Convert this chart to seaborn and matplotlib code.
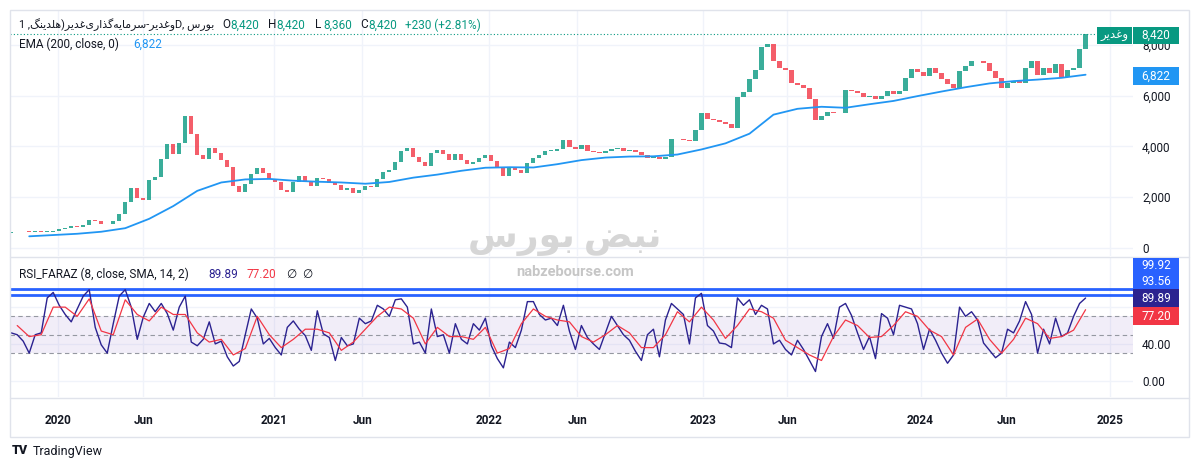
import numpy as np
import matplotlib
matplotlib.use("Agg")
import matplotlib.pyplot as plt
import seaborn as sns
from matplotlib.patches import Rectangle
from matplotlib.lines import Line2D

# --- data (roughly one value per week of trading) ---
close = [620, 615, 625, 620, 630, 625, 640, 680, 760, 800,
         860, 840, 900, 1100, 1080, 960, 930, 1050, 1350, 1800,
         2380, 1980, 1880, 2690, 2800, 3500, 4100, 3700, 4150, 5200,
         4500, 3650, 3500, 3940, 3750, 3480, 3200, 2450, 2200, 2500,
         2900, 3150, 2950, 2720, 2600, 2300, 2200, 2600, 2820, 2650,
         2450, 2750, 2700, 2550, 2480, 2290, 2380, 2150, 2300, 2450,
         2420, 2700, 2980, 3080, 3400, 3800, 3950, 3600, 3400, 3230,
         3750, 3850, 3700, 3450, 3720, 3480, 3300, 3400, 3560, 3650,
         3410, 3180, 2820, 3130, 3070, 2950, 3350, 3550, 3680, 3820,
         3830, 3900, 4250, 3980, 3880, 4070, 3830, 3770, 3750, 3830,
         3900, 3930, 3820, 3860, 3790, 3670, 3560, 3600, 3500, 3600,
         4300, 4280, 4250, 4220, 4650, 5300, 5080, 5050, 4980, 4900,
         4730, 5950, 6150, 6640, 7000, 7900, 8050, 7350, 7100, 7000,
         6500, 6400, 6300, 5850, 5050, 5200, 5350, 5300, 5320, 6240,
         6170, 6120, 5950, 5990, 5850, 6000, 6200, 6080, 6200, 6700,
         7030, 6920, 6780, 7100, 6880, 6640, 6470, 6310, 6950, 7150,
         7360, 7350, 7300, 6950, 6700, 6300, 6480, 6570, 6510, 7100,
         7360, 6800, 7100, 6900, 7250, 6750, 7000, 7100, 7820, 8420]
first_open = 600

# EMA(200) sampled every 4th bar, starting at bar 3
ema = [460, 510, 560, 640, 780, 1150, 1650, 2250, 2580, 2700,
       2720, 2650, 2610, 2580, 2530, 2600, 2770, 2890, 3040, 3160,
       3180, 3170, 3300, 3460, 3560, 3600, 3610, 3680, 3880, 4120,
       4500, 5250, 5480, 5560, 5520, 5660, 5790, 5980, 6160, 6330,
       6480, 6570, 6630, 6700, 6822]

rsi = [52, 50, 43, 30, 50, 52, 90, 96, 82, 72,
       64, 78, 92, 99, 58, 39, 30, 62, 92, 99,
       80, 45, 69, 84, 75, 84, 73, 55, 80, 92,
       42, 38, 45, 64, 40, 43, 26, 16, 21, 50,
       78, 68, 40, 46, 36, 28, 58, 65, 56, 49,
       33, 76, 51, 47, 22, 47, 38, 40, 68, 62,
       65, 82, 78, 70, 88, 89, 80, 40, 42, 30,
       78, 48, 50, 30, 62, 45, 40, 62, 55, 68,
       38, 24, 14, 42, 36, 55, 86, 86, 72, 66,
       68, 60, 82, 54, 34, 60, 47, 40, 34, 52,
       70, 60, 50, 44, 32, 22, 50, 56, 26, 66,
       84, 78, 72, 40, 90, 95, 60, 54, 41, 40,
       36, 90, 82, 88, 72, 82, 78, 40, 44, 34,
       28, 44, 34, 22, 10, 48, 62, 46, 80, 84,
       71, 52, 34, 48, 24, 73, 68, 50, 82, 80,
       78, 62, 34, 56, 44, 30, 19, 28, 80, 70,
       75, 66, 41, 33, 25, 30, 56, 52, 65, 86,
       72, 30, 56, 40, 68, 48, 52, 70, 84, 89.89]

# SMA(14) of the RSI, sampled every 2nd bar, starting at bar 1
rsi_sma = [60, 48, 50, 80, 80, 70, 89, 54, 50, 88,
           72, 65, 80, 72, 72, 52, 42, 45, 28, 35,
           70, 50, 36, 45, 56, 56, 52, 33, 42, 56,
           70, 80, 78, 68, 40, 58, 48, 48, 45, 58,
           30, 35, 62, 78, 70, 66, 64, 48, 42, 50,
           60, 52, 36, 36, 50, 75, 64, 80, 66, 46,
           60, 78, 75, 68, 44, 36, 28, 22, 48, 66,
           60, 47, 48, 60, 75, 70, 55, 48, 28, 58,
           67, 45, 30, 45, 68, 62, 46, 48, 55, 77.2]

tick_pos = [7.8, 22.0, 43.8, 58.5, 79.6, 94.3, 115.3, 129.3, 151.5, 165.8, 183.1]
tick_labels = ["2020", "Jun", "2021", "Jun", "2022", "Jun", "2023", "Jun", "2024", "Jun", "2025"]
price_ticks = [0, 2000, 4000, 6000, 8000]
rsi_ticks = [0, 40, 80]
rsi_tick_labels = ["0.00", "40.00", ""]
rsi_band = [30, 50, 70]
rsi_limits = [99.92, 93.56]

ticker = "وغدیر"
title = "وغدیر-سرمایه\u200cگذاری\u200cغدیر(هلدینگ, 1"
exchange = "بورس"
ohlc = [("O", "8,420"), ("H", "8,420"), ("L", "8,360"), ("C", "8,420")]
change = "+230 (+2.81%)"

GREEN = "#089981"
RED = "#F23645"
DARK = "#131722"
EMA_BLUE = "#2196F3"
RSI_COL = "#2B2290"
GRID = "#f0f3fa"
BORDER = "#e0e3eb"

# --- tiny arabic shaper: matplotlib has no bidi / joining support ---
FORMS = {
    "ا": ("\uFE8D", "\uFE8E", None, None),
    "ب": ("\uFE8F", "\uFE90", "\uFE91", "\uFE92"),
    "د": ("\uFEA9", "\uFEAA", None, None),
    "ذ": ("\uFEAB", "\uFEAC", None, None),
    "ر": ("\uFEAD", "\uFEAE", None, None),
    "س": ("\uFEB1", "\uFEB2", "\uFEB3", "\uFEB4"),
    "ض": ("\uFEBD", "\uFEBE", "\uFEBF", "\uFEC0"),
    "غ": ("\uFECD", "\uFECE", "\uFECF", "\uFED0"),
    "ل": ("\uFEDD", "\uFEDE", "\uFEDF", "\uFEE0"),
    "م": ("\uFEE1", "\uFEE2", "\uFEE3", "\uFEE4"),
    "ن": ("\uFEE5", "\uFEE6", "\uFEE7", "\uFEE8"),
    "ه": ("\uFEE9", "\uFEEA", "\uFEEB", "\uFEEC"),
    "و": ("\uFEED", "\uFEEE", None, None),
    "ی": ("\uFBFC", "\uFBFD", "\uFBFE", "\uFBFF"),
    "گ": ("\uFB92", "\uFB93", "\uFB94", "\uFB95"),
}
MIRROR = {"(": ")", ")": "("}


def rtl(s):
    out = []
    for k, ch in enumerate(s):
        if ch == "\u200c":
            continue
        if ch not in FORMS:
            out.append(MIRROR.get(ch, ch))
            continue
        iso, fin, ini, med = FORMS[ch]
        prev = s[k - 1] if k > 0 else ""
        nxt = s[k + 1] if k + 1 < len(s) else ""
        jp = prev in FORMS and FORMS[prev][2] is not None
        jn = nxt in FORMS and ini is not None
        if jp and jn:
            out.append(med)
        elif jp:
            out.append(fin)
        elif jn:
            out.append(ini)
        else:
            out.append(iso)
    return "".join(out[::-1])


sns.set_style("white")
plt.rcParams["font.family"] = ["Roboto", "DejaVu Sans"]

W, H = 1200, 470
fig = plt.figure(figsize=(W / 100, H / 100), dpi=100)
renderer = fig.canvas.get_renderer()


def fx(x):
    return x / W


def fy(y):
    return 1 - y / H


ax = fig.add_axes([fx(10), fy(256), 1123 / W, 246 / H])
ax_rsi = fig.add_axes([fx(10), fy(397), 1123 / W, 140 / H], sharex=ax)

close = np.array(close, dtype=float)
n = len(close)
idx = np.arange(n)
opens = np.r_[first_open, close[:-1]]
up = close >= opens

# --- price pane ---
for t in price_ticks:
    ax.axhline(t, color=GRID, lw=1, zorder=0)
for t in tick_pos:
    ax.axvline(t, color=GRID, lw=1, zorder=0)
    ax_rsi.axvline(t, color=GRID, lw=1, zorder=0)

body_lo = np.minimum(opens, close)
body_h = np.maximum(np.abs(close - opens), 30)
ax.bar(idx, body_h, bottom=body_lo, width=0.7,
       color=np.where(up, GREEN, RED), alpha=0.8, linewidth=0, zorder=2)

ema_idx = np.arange(3, n, 4)
sns.lineplot(x=ema_idx, y=ema, ax=ax, color=EMA_BLUE, lw=1.3, zorder=3)
ax.axhline(close[-1], color=GREEN, lw=0.8, ls=(0, (1, 2)), zorder=1)

ax.set_xlim(-0.2, 186.9)
ax.set_ylim(-315, 9370)
ax.yaxis.tick_right()
ax.set_yticks(price_ticks, [f"{t:,}" for t in price_ticks])
ax.tick_params(axis="y", length=0, pad=6.5, labelsize=8.5, labelcolor=DARK)
ax.tick_params(axis="x", length=0, labelbottom=False)
for s in ax.spines.values():
    s.set_visible(False)

# --- RSI pane ---
for t in rsi_ticks:
    ax_rsi.axhline(t, color=GRID, lw=1, zorder=0)
ax_rsi.axhspan(rsi_band[0], rsi_band[-1], color="#7E57C2", alpha=0.1, lw=0, zorder=0)
for lv in rsi_band:
    ax_rsi.axhline(lv, color="#9598a1", lw=0.8, ls=(0, (4, 3)), zorder=1)
for lv in rsi_limits:
    ax_rsi.axhline(lv, color="#2962FF", lw=2, zorder=1)

sns.lineplot(x=idx, y=rsi, ax=ax_rsi, color=RSI_COL, lw=1.0, zorder=3)
sma_idx = np.arange(1, n, 2)
sns.lineplot(x=sma_idx, y=rsi_sma, ax=ax_rsi, color=RED, lw=0.9, zorder=4)

ax_rsi.set_ylim(-17.7, 134.5)
ax_rsi.yaxis.tick_right()
ax_rsi.set_yticks(rsi_ticks, rsi_tick_labels)
ax_rsi.tick_params(axis="y", length=0, pad=6.5, labelsize=8.5, labelcolor=DARK)
ax_rsi.set_xticks(tick_pos, tick_labels)
ax_rsi.tick_params(axis="x", length=0, pad=12, labelsize=8.5, labelcolor=DARK)
for lab in ax_rsi.get_xticklabels():
    lab.set_fontweight("semibold")
for s in ax_rsi.spines.values():
    s.set_visible(False)
ax.set_ylabel("")
ax_rsi.set_ylabel("")

# --- frame and pane separators ---
fig.patches.append(Rectangle((fx(10), fy(437)), 1179 / W, 427 / H, transform=fig.transFigure,
                             fill=False, edgecolor=BORDER, lw=1, zorder=5))
for yy in (256.5, 397.5):
    fig.add_artist(Line2D([fx(10), fx(1189)], [fy(yy), fy(yy)], color=BORDER, lw=1))


def box(x0, x1, y0, y1, color, text):
    fig.patches.append(Rectangle((fx(x0), fy(y1)), (x1 - x0) / W, (y1 - y0) / H,
                                 transform=fig.transFigure, color=color, lw=0, zorder=6))
    fig.text(fx((x0 + x1) / 2), fy((y0 + y1) / 2), text, color="white", fontsize=8.5,
             ha="center", va="center", zorder=7)


box(1097, 1132, 27, 44, GREEN, rtl(ticker))
box(1133, 1179, 27, 44, GREEN, f"{int(close[-1]):,}")
box(1133, 1179, 67, 85, EMA_BLUE, f"{ema[-1]:,}")
box(1133, 1179, 258, 273.5, "#2962FF", f"{rsi_limits[0]:.2f}")
box(1133, 1179, 273.5, 289, "#2962FF", f"{rsi_limits[1]:.2f}")
box(1133, 1179, 289, 307, RSI_COL, f"{rsi[-1]:.2f}")
box(1133, 1179, 307, 325, RED, f"{rsi_sma[-1]:.2f}")

# --- header texts ---
fs = 8.5
ttl = fig.text(fx(19), fy(25), rtl(title) + "D, " + rtl(exchange), color=DARK, fontsize=fs, va="center")
tw = ttl.get_window_extent(renderer).width
if tw > 196:
    ttl.set_fontsize(fs * 196 / tw)
xs = [222, 268, 315, 360]
for x0, (k, v) in zip(xs, ohlc):
    fig.text(fx(x0), fy(25), k, color=DARK, fontsize=fs, va="center")
    fig.text(fx(x0 + 8), fy(25), v, color=GREEN, fontsize=fs, va="center")
fig.text(fx(405), fy(25), change, color=GREEN, fontsize=fs, va="center")

fig.text(fx(19), fy(44), "EMA (200, close, 0)", color=DARK, fontsize=fs, va="center")
fig.text(fx(133), fy(44), f"{ema[-1]:,}", color=EMA_BLUE, fontsize=fs, va="center")

fig.text(fx(19), fy(274), "RSI_FARAZ (8, close, SMA, 14, 2)", color=DARK, fontsize=fs, va="center")
fig.text(fx(208), fy(274), f"{rsi[-1]:.2f}", color=RSI_COL, fontsize=fs, va="center")
fig.text(fx(247), fy(274), f"{rsi_sma[-1]:.2f}", color=RED, fontsize=fs, va="center")
fig.text(fx(286), fy(274), "\u2205", color=DARK, fontsize=fs, va="center")
fig.text(fx(302), fy(274), "\u2205", color=DARK, fontsize=fs, va="center")

# watermark
fig.text(fx(565), fy(238), rtl("نبض بورس"), color="#d6d6d6", fontsize=26,
         fontweight="bold", ha="center", va="center", zorder=1)
fig.text(fx(575), fy(272), "nabzebourse.com", color="#c6c6c6", fontsize=10.5,
         fontweight="bold", ha="center", va="center", zorder=1)

# TradingView mark
fig.text(fx(12), fy(451), "TV", color=DARK, fontsize=9, fontweight="heavy", va="center")
fig.text(fx(33), fy(451), "TradingView", color=DARK, fontsize=9, va="center")

fig.savefig("out.png", dpi=100)
